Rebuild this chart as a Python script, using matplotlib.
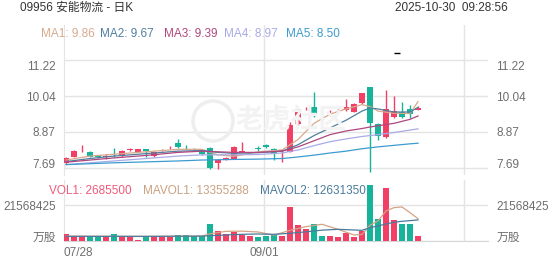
import matplotlib
matplotlib.use("Agg")
import matplotlib.pyplot as plt
import matplotlib.transforms as mtransforms
from matplotlib.patches import Ellipse
import numpy as np

plt.rcParams['font.family'] = ['Liberation Sans', 'Noto Sans CJK SC', 'DejaVu Sans']

# daily candles, index 0 = 07/28
opens = [7.86, 8.06, 8.33, 8.22, 8.11, 8.05, 8.15, 8.08, 8.29, 8.22, 8.30, 8.08, 8.27, 8.33, 8.52,
         8.38, 8.29, 8.28, 8.33, 7.85, 7.99, 8.00, 8.21, 8.30, 8.34, 8.44, 8.30, 8.25, 8.22, 9.12,
         9.64, 9.69, 9.50, 9.54, 9.55, 9.58, 9.53, 9.80, 10.34, 9.13, 8.70, 9.36, 9.52, 9.62, 9.60]
highs = [8.05, 8.27, 8.44, 8.24, 8.13, 8.14, 8.34, 8.28, 8.34, 8.31, 8.32, 8.23, 8.32, 8.42, 8.63,
         8.44, 8.34, 8.30, 8.38, 7.97, 8.05, 8.42, 8.55, 8.30, 8.42, 8.48, 8.33, 8.30, 9.20, 9.63,
         9.70, 10.18, 9.55, 9.60, 9.62, 9.94, 9.80, 10.13, 10.34, 9.15, 10.24, 10.04, 9.85, 9.75, 9.72]
lows = [7.82, 8.04, 8.22, 8.04, 8.02, 7.98, 8.05, 8.06, 8.24, 8.20, 8.06, 8.06, 8.24, 8.30, 8.35,
        8.32, 8.25, 8.13, 7.66, 7.65, 7.94, 7.98, 8.20, 8.30, 8.26, 8.35, 7.95, 7.90, 8.20, 9.10,
        9.58, 9.36, 9.25, 9.40, 9.48, 9.56, 9.52, 9.79, 7.56, 8.60, 8.68, 9.34, 9.34, 9.32, 9.58]
closes = [8.01, 8.25, 8.34, 8.06, 8.04, 8.07, 8.14, 8.26, 8.31, 8.30, 8.26, 8.21, 8.29, 8.35, 8.37,
          8.36, 8.27, 8.15, 7.68, 7.95, 8.01, 8.39, 8.23, 8.30, 8.32, 8.37, 8.15, 8.27, 9.10, 9.61,
          9.66, 9.45, 9.48, 9.56, 9.56, 9.69, 9.78, 10.13, 9.16, 8.74, 9.62, 9.55, 9.36, 9.46, 9.66]
volumes = [4.0, 2.8, 2.6, 2.6, 2.6, 2.4, 4.2, 2.8, 2.4, 0.8, 3.2, 2.4, 2.4, 2.6, 3.6,
           3.6, 2.8, 3.2, 10.2, 6.0, 4.0, 5.4, 3.6, 3.0, 2.4, 3.0, 3.4, 3.0, 20.4, 9.6,
           7.2, 10.0, 3.0, 3.0, 2.4, 4.8, 2.4, 6.0, 33.5, 13.0, 32.0, 12.5, 10.0, 10.0, 2.7]  # million shares

# moving-average lines read at selected candle indices
ma_idx = [0, 3, 6, 10, 14, 17, 19, 21, 24, 27, 29, 31, 33, 35, 37, 38, 39, 41, 43, 44]
ma1 = [7.95, 8.08, 8.14, 8.22, 8.30, 8.30, 8.12, 8.07, 8.22, 8.28, 8.62, 9.15, 9.45, 9.62, 9.76,
       9.70, 9.55, 9.48, 9.47, 9.86]
ma2 = [7.90, 8.00, 8.08, 8.16, 8.24, 8.26, 8.20, 8.17, 8.19, 8.24, 8.45, 8.75, 9.00, 9.25, 9.55,
       9.65, 9.62, 9.52, 9.52, 9.67]
ma3 = [7.88, 7.95, 8.02, 8.10, 8.20, 8.24, 8.22, 8.20, 8.20, 8.24, 8.38, 8.58, 8.78, 8.90, 8.98,
       9.03, 9.07, 9.15, 9.28, 9.39]
ma4 = [7.80, 7.86, 7.92, 8.00, 8.08, 8.12, 8.12, 8.12, 8.13, 8.18, 8.28, 8.42, 8.55, 8.64, 8.72,
       8.75, 8.78, 8.85, 8.93, 8.97]
ma5 = [7.80, 7.83, 7.86, 7.89, 7.92, 7.95, 7.96, 7.97, 7.98, 8.00, 8.05, 8.11, 8.18, 8.24, 8.32,
       8.35, 8.38, 8.43, 8.48, 8.50]

mavol_idx = [0, 10, 17, 18, 20, 22, 24, 26, 28, 30, 32, 34, 36, 37, 38, 39, 40, 41, 42, 43, 44]
mavol1 = [2.9, 2.7, 3.0, 4.3, 5.8, 5.9, 5.4, 3.5, 6.4, 8.6, 10.0, 7.0, 3.6, 3.9, 9.5, 12.0,
          18.0, 20.0, 20.4, 17.0, 13.36]
mavol2 = [2.8, 2.8, 2.9, 3.2, 3.6, 4.0, 4.2, 4.0, 4.6, 5.5, 6.5, 7.0, 6.6, 6.4, 8.0, 9.0,
          10.2, 11.2, 11.8, 12.2, 12.63]

ma_colors = ['#d9a98c', '#4f7f9e', '#b0467f', '#a9aae6', '#3d9bcf']
ma_labels = ['MA1: 9.86', 'MA2: 9.67', 'MA3: 9.39', 'MA4: 8.97', 'MA5: 8.50']
vol_labels = ['VOL1: 2685500', 'MAVOL1: 13355288', 'MAVOL2: 12631350']
vol_colors = ['#f05a78', '#c9a282', '#4b7b9c']
price_ticks = [11.22, 10.04, 8.87, 7.69]
vol_tick = 21568425
x_labels = {0: '07/28', 24.75: '09/01'}
vgrid = [24.75, 49.75]
high_mark = (41.4, 11.45)

RED = '#f23f66'
TEAL = '#17b39b'
GRID = '#e4e4e4'
LABEL = '#6e6e6e'

W, H = 552, 265
fig = plt.figure(figsize=(W / 100, H / 100), dpi=100)


def px_axes(x0, y0, x1, y1):
    return fig.add_axes([x0 / W, 1 - y1 / H, (x1 - x0) / W, (y1 - y0) / H])


def shift(lab, dy):
    lab.set_transform(lab.get_transform()
                      + mtransforms.ScaledTranslation(0, dy / 72, fig.dpi_scale_trans))


ax = px_axes(64, 25, 488, 175)
axv = px_axes(64, 180, 488, 241)

n = len(opens)
x = np.arange(n)
o = np.array(opens)
c = np.array(closes)
cols = [RED if cc > oo else (TEAL if cc < oo else '#111111') for oo, cc in zip(o, c)]

# candles
ax.vlines(x, lows, highs, colors=cols, linewidth=1, zorder=3)
ax.bar(x, np.maximum(np.abs(c - o), 0.012), bottom=np.minimum(o, c), width=0.72,
       color=cols, linewidth=0, zorder=4)

for vals, col in zip([ma1, ma2, ma3, ma4, ma5], ma_colors):
    ax.plot(ma_idx, vals, color=col, linewidth=0.9, zorder=5)

ax.hlines(high_mark[1], high_mark[0] - 0.35, high_mark[0] + 0.35, color='black', linewidth=1)

ax.set_xlim(-0.25, 52.75)
ax.set_ylim(7.461, 12.364)
ax.set_yticks(price_ticks)
ax.set_yticklabels(['%.2f' % t for t in price_ticks])
ax.set_xticks([])
ax.grid(axis='y', color=GRID, linewidth=1)
for v in vgrid:
    ax.axvline(v, color=GRID, linewidth=1, zorder=0)
for s in ['top', 'right', 'bottom']:
    ax.spines[s].set_visible(False)
ax.spines['left'].set_color(GRID)
ax.tick_params(axis='y', length=0, labelsize=8.5, labelcolor=LABEL, labelright=True, pad=6)
# outer labels are kept inside the panel
shift(ax.yaxis.majorTicks[0].label1, -4)
shift(ax.yaxis.majorTicks[0].label2, -4)
shift(ax.yaxis.majorTicks[-1].label1, 3)
shift(ax.yaxis.majorTicks[-1].label2, 3)

# volume
vols = np.array(volumes) * 1e6
axv.bar(x, vols, width=0.75, color=[TEAL if cc == TEAL else RED for cc in cols],
        linewidth=0, zorder=3)
axv.plot(mavol_idx, np.array(mavol1) * 1e6, color='#d4a384', linewidth=0.9, zorder=4)
axv.plot(mavol_idx, np.array(mavol2) * 1e6, color='#4b7b9c', linewidth=0.9, zorder=4)
axv.set_xlim(-0.25, 52.75)
axv.set_ylim(0, 36.55e6)
axv.set_yticks([vol_tick, 0])
axv.set_yticklabels([str(vol_tick), '万股'])
axv.grid(axis='y', color=GRID, linewidth=1)
for v in vgrid:
    axv.axvline(v, color=GRID, linewidth=1, zorder=0)
for s in ['top', 'right']:
    axv.spines[s].set_visible(False)
axv.spines['left'].set_color(GRID)
axv.spines['bottom'].set_color('#d6d6d6')
axv.tick_params(axis='y', length=0, labelsize=8.5, labelcolor=LABEL, labelright=True, pad=6)
shift(axv.yaxis.majorTicks[1].label1, 3)
shift(axv.yaxis.majorTicks[1].label2, 3)
axv.set_xticks(list(x_labels.keys()))
axv.set_xticklabels(list(x_labels.values()))
axv.tick_params(axis='x', length=0, labelsize=8.5, labelcolor=LABEL, pad=4)
first = axv.xaxis.get_majorticklabels()[0]
first.set_horizontalalignment('left')
first.set_transform(first.get_transform()
                    + mtransforms.ScaledTranslation(-2 / 100, 0, fig.dpi_scale_trans))

# faint watermark
fig.patches.append(Ellipse((213 / W, 1 - 121 / H), 40 / W, 40 / H, transform=fig.transFigure,
                           fill=False, edgecolor='#eeeeee', linewidth=2.5, zorder=1))
fig.text(235 / W, 1 - 121 / H, '老虎社区', fontsize=20, color='#f3f3f3', va='center', ha='left',
         zorder=0, fontweight='bold')

# header texts
fig.text(20 / W, 1 - 8 / H, '09956 安能物流 - 日K', fontsize=8.5, color='#333333', va='center')
fig.text(508 / W, 1 - 8 / H, '2025-10-30  09:28:56', fontsize=8.5, color='#333333', va='center',
         ha='right')
for xp, txt, col in zip([41, 100, 164, 224, 286], ma_labels, ma_colors):
    fig.text(xp / W, 1 - 34 / H, txt, fontsize=8.5, color=col, va='center')
for xp, txt, col in zip([49, 143, 260], vol_labels, vol_colors):
    fig.text(xp / W, 1 - 191 / H, txt, fontsize=8.5, color=col, va='center')

fig.savefig('out.png', dpi=100)
